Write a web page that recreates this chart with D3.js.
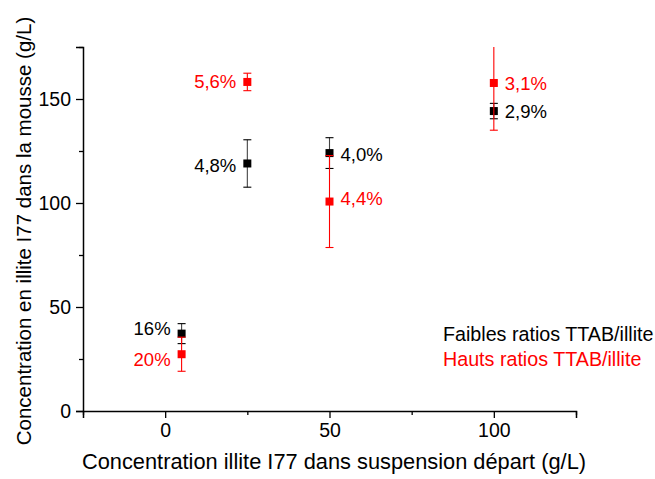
<!DOCTYPE html>
<html>
<head>
<meta charset="utf-8">
<script src="https://cdn.jsdelivr.net/npm/d3@7"></script>
<style>
  html, body { margin: 0; padding: 0; background: #fff; }
  svg { display: block; font-family: "Liberation Sans", Arial, sans-serif; }
</style>
</head>
<body>
<svg id="chart" width="655" height="479"></svg>
<script>
// Starting suspension concentration (g/L)
const xValues = [5, 25, 50, 100];

// Low TTAB/illite ratios: illite concentration in foam (g/L), error, label
const lowRatioY = [37.2, 119, 124, 144.2];
const lowRatioErr = [4.8, 11.4, 7.4, 3.7];
const lowRatioLabels = ["16%", "4,8%", "4,0%", "2,9%"];

// High TTAB/illite ratios
const highRatioY = [27.3, 158.2, 100.7, 157.7];
const highRatioErr = [8.2, 4.2, 22.1, 22.7];
const highRatioLabels = ["20%", "5,6%", "4,4%", "3,1%"];

// Axis ticks
const xTicks = [0, 50, 100];
const xMinorTicks = [-25, 25, 75, 125];
const yTicks = [0, 50, 100, 150];
const yMinorTicks = [25, 75, 125, 175];

const legendLabels = ["Faibles ratios TTAB/illite", "Hauts ratios TTAB/illite"];
const xTitle = "Concentration illite I77 dans suspension départ (g/L)";
const yTitle = "Concentration en illite I77 dans la mousse (g/L)";

const svg = d3.select("#chart");
const margin = { left: 83, top: 47, right: 79, bottom: 68 };
const W = 655, H = 479;
const innerW = W - margin.left - margin.right;
const innerH = H - margin.top - margin.bottom;

const x = d3.scaleLinear().domain([-25, 125]).range([0, innerW]);
const y = d3.scaleLinear().domain([0, 175]).range([innerH, 0]);

const g = svg.append("g").attr("transform", `translate(${margin.left},${margin.top})`);

// clip for error bars running past the top of the frame
svg.append("defs").append("clipPath").attr("id", "plotClip")
  .append("rect").attr("x", -10).attr("y", 0).attr("width", innerW + 20).attr("height", innerH);

const FONT = '"Liberation Sans", Arial, sans-serif';
const tickFont = 19.5, pointFont = 18.5, legendFont = 19.7, xTitleFont = 21.8, yTitleFont = 20.5;

// Axes: major ticks labelled, minor ticks short
const xAxis = d3.axisBottom(x).tickValues(xTicks).tickSize(7).tickPadding(5).tickFormat(d3.format("d"));
const xMinor = d3.axisBottom(x).tickValues(xMinorTicks).tickSize(4).tickFormat("");
const yAxis = d3.axisLeft(y).tickValues(yTicks).tickSize(7).tickPadding(5).tickFormat(d3.format("d"));
const yMinor = d3.axisLeft(y).tickValues(yMinorTicks).tickSize(4).tickFormat("");

function styleAxis(sel) {
  sel.select(".domain").attr("stroke", "#000").attr("stroke-width", 1.5);
  sel.selectAll(".tick line").attr("stroke", "#000").attr("stroke-width", 1.3);
  sel.selectAll(".tick text").attr("fill", "#000").style("font-size", tickFont + "px")
    .style("font-family", FONT);
}

g.append("g").attr("transform", `translate(0,${innerH})`).call(xMinor).call(styleAxis)
  .select(".domain").remove();
g.append("g").attr("transform", `translate(0,${innerH})`).call(xAxis).call(styleAxis);
g.append("g").call(yMinor).call(styleAxis).select(".domain").remove();
g.append("g").call(yAxis).call(styleAxis);

// Axis titles
svg.append("text")
  .attr("x", 334)
  .attr("y", 469)
  .attr("text-anchor", "middle")
  .style("font-size", xTitleFont + "px")
  .attr("fill", "#000")
  .text(xTitle);

svg.append("text")
  .attr("transform", `translate(31,231) rotate(-90)`)
  .attr("text-anchor", "middle")
  .style("font-size", yTitleFont + "px")
  .attr("fill", "#000")
  .text(yTitle);

// Series drawing
const series = [
  { name: "low", color: "#000", barColor: "#444", capColor: "#000", ys: lowRatioY, errs: lowRatioErr, labels: lowRatioLabels,
    // label placement per point: side and vertical nudge (px)
    place: [{ side: "left", dy: -5 }, { side: "left", dy: 3 }, { side: "right", dy: 2 }, { side: "right", dy: 1 }] },
  { name: "high", color: "#ff0000", barColor: "#ff0000", capColor: "#ff0000", ys: highRatioY, errs: highRatioErr, labels: highRatioLabels,
    place: [{ side: "left", dy: 6 }, { side: "left", dy: 0 }, { side: "right", dy: -3 }, { side: "right", dy: 1 }] }
];

const capW = 8, markerSize = 8;

series.forEach(s => {
  const data = xValues.map((xv, i) => ({ x: xv, y: s.ys[i], e: s.errs[i], label: s.labels[i], place: s.place[i] }));
  const sg = g.append("g").attr("class", "series-" + s.name);

  const bars = sg.append("g").attr("clip-path", "url(#plotClip)");
  bars.selectAll("line.err").data(data).join("line")
    .attr("class", "err")
    .attr("x1", d => x(d.x)).attr("x2", d => x(d.x))
    .attr("y1", d => y(d.y + d.e)).attr("y2", d => y(d.y - d.e))
    .attr("stroke", s.barColor).attr("stroke-width", 1.1);
  ["top", "bottom"].forEach(end => {
    bars.selectAll("line.cap-" + end).data(data).join("line")
      .attr("class", "cap-" + end)
      .attr("x1", d => x(d.x) - capW / 2).attr("x2", d => x(d.x) + capW / 2)
      .attr("y1", d => y(end === "top" ? d.y + d.e : d.y - d.e))
      .attr("y2", d => y(end === "top" ? d.y + d.e : d.y - d.e))
      .attr("stroke", s.capColor).attr("stroke-width", 1.1);
  });

  sg.selectAll("rect.pt").data(data).join("rect")
    .attr("class", "pt")
    .attr("x", d => x(d.x) - markerSize / 2)
    .attr("y", d => y(d.y) - markerSize / 2)
    .attr("width", markerSize).attr("height", markerSize)
    .attr("fill", s.color);

  sg.selectAll("text.lbl").data(data).join("text")
    .attr("class", "lbl")
    .attr("x", d => x(d.x) + (d.place.side === "left" ? -11 : 11))
    .attr("y", d => y(d.y) + 6 + d.place.dy)
    .attr("text-anchor", d => d.place.side === "left" ? "end" : "start")
    .style("font-size", pointFont + "px")
    .attr("fill", s.color)
    .text(d => d.label);
});

// Legend text
const legendColors = ["#000", "#ff0000"];
svg.selectAll("text.legend").data(legendLabels).join("text")
  .attr("class", "legend")
  .attr("x", 443)
  .attr("y", (d, i) => 341 + i * 25)
  .style("font-size", legendFont + "px")
  .attr("fill", (d, i) => legendColors[i])
  .text(d => d);
</script>
</body>
</html>
